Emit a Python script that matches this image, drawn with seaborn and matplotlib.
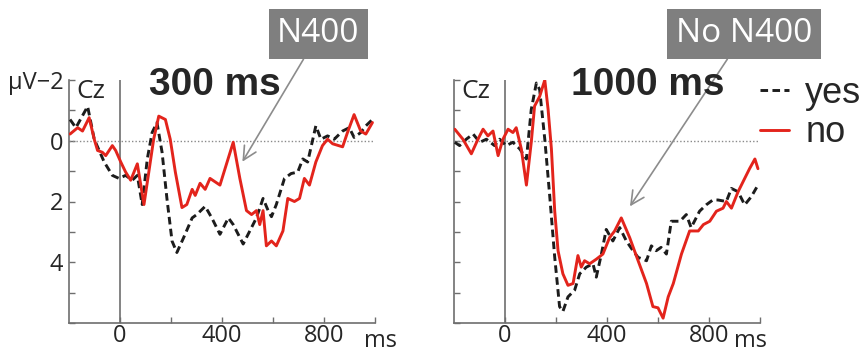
import numpy as np
import pandas as pd
import matplotlib
matplotlib.use("Agg")
import matplotlib.pyplot as plt
import seaborn as sns

sns.set_theme(style="white")
plt.rcParams['font.family'] = ['Open Sans', 'DejaVu Sans']

# ---------------- data (ms, µV; negative plotted up) ----------------
left_no_t = [-196, -166, -147, -121, -101, -88, -69, -56, -30, -17, 3, 22, 42, 68, 94, 113, 132, 152,
             178, 197, 217, 243, 262, 283, 295, 314, 334, 353, 392, 444, 470, 496, 516, 535, 548, 561,
             574, 594, 613, 639, 658, 684, 704, 723, 743, 768, 794, 814, 834, 873, 892, 918, 944, 964, 990]
left_no_v = [-0.22, -0.43, -0.32, -0.76, -0.05, 0.32, 0.38, 0.49, 0.16, 0.32, 0.7, 1.03, 1.3, 0.76, 2.1,
             1.03, -0.05, -0.81, -0.7, -0.05, 1.03, 2.2, 2.1, 1.6, 1.8, 1.4, 1.6, 1.24, 1.46, 0.05, 1.24,
             2.3, 2.43, 2.3, 2.76, 2.3, 3.46, 3.3, 3.46, 2.97, 1.9, 2.0, 1.9, 1.24, 1.46, 0.7, 0.16, -0.05,
             0.1, 0.2, -0.27, -0.86, -0.32, -0.22, -0.6]

left_yes_t = [-196, -173, -127, -101, -62, -30, -4, 22, 48, 68, 87, 107, 126, 145, 165, 184, 204, 223,
              249, 283, 301, 334, 360, 392, 425, 444, 483, 509, 535, 561, 581, 594, 613, 645, 671, 697,
              717, 736, 768, 788, 814, 840, 873, 899, 918, 944, 964, 990]
left_yes_v = [-0.7, -0.43, -1.13, -0.05, 0.7, 1.14, 1.24, 1.14, 1.3, 1.14, 2.1, 0.6, -0.27, -0.6, 0.38,
              1.9, 3.3, 3.68, 3.2, 2.54, 2.43, 2.16, 2.54, 3.08, 2.54, 2.76, 3.4, 2.97, 2.54, 1.9, 2.3,
              2.5, 2.1, 1.24, 1.08, 1.03, 0.6, 0.7, -0.49, -0.05, -0.16, -0.05, -0.32, -0.43, -0.11,
              -0.27, -0.49, -0.7]

right_no_t = [-197, -165, -132, -106, -86, -67, -47, -27, -8, 12, 31, 44, 64, 84, 103, 116, 136, 156,
              169, 182, 195, 208, 227, 247, 267, 286, 299, 312, 332, 358, 384, 410, 430, 456, 489, 522,
              555, 580, 600, 620, 640, 660, 692, 724, 758, 778, 803, 829, 855, 868, 888, 914, 940, 959,
              980, 992]
right_no_v = [-0.38, -0.05, 0.43, -0.05, -0.38, -0.16, -0.32, 0.49, -0.05, -0.38, -0.27, -0.43, 0.27,
              1.46, 0.05, -1.14, -1.46, -2.0, -1.03, 0.27, 2.32, 3.62, 4.38, 4.76, 4.7, 3.78, 4.16, 3.95,
              4.05, 3.9, 3.73, 3.19, 2.97, 2.54, 3.19, 3.95, 4.7, 5.46, 5.5, 5.84, 5.14, 4.7, 3.73, 2.97,
              2.97, 2.76, 2.65, 2.32, 2.22, 2.0, 2.22, 1.68, 1.24, 0.92, 0.6, 0.92]

right_yes_t = [-197, -178, -152, -125, -99, -73, -41, -21, 5, 31, 58, 84, 103, 123, 136, 156, 175, 195,
               214, 227, 247, 273, 293, 319, 345, 358, 378, 397, 423, 450, 476, 502, 522, 555, 574, 593,
               612, 633, 652, 686, 711, 730, 763, 789, 815, 835, 868, 888, 914, 940, 966, 992]
right_yes_v = [0.05, 0.16, -0.05, -0.22, 0.05, -0.05, 0.16, -0.05, 0.16, 0.05, 0.27, 0.6, -1.03, -1.9,
               -1.68, -0.05, 1.78, 3.84, 5.46, 5.62, 5.14, 4.92, 4.38, 4.16, 4.05, 4.49, 3.73, 2.92, 3.3,
               2.86, 3.3, 3.62, 3.84, 3.95, 3.46, 3.62, 3.51, 3.73, 2.65, 2.65, 2.43, 2.86, 2.32, 2.11,
               1.95, 1.95, 2.0, 1.57, 1.68, 2.11, 1.84, 1.46]

x_ticks = [0, 200, 400, 600, 800, 1000]
x_ticklabels = ['0', '', '400', '', '800', '']
y_ticks = [-2, -1, 0, 1, 2, 3, 4, 5, 6]
y_ticklabels = ['µV\u22122', '', '0', '', '2', '', '4', '', '']
panel_titles = ['300 ms', '1000 ms']
box_labels = ['N400', 'No N400']
legend_labels = ['yes', 'no']

RED = '#e3241c'
BLK = '#1c1c1c'
AX_COL = '#6e6e6e'
TXT = '#262626'

fig = plt.figure(figsize=(8.66, 3.52), dpi=100)
axL = fig.add_axes([69/866, 1-323/352, 306/866, 243/352])
axR = fig.add_axes([454/866, 1-323/352, 306/866, 243/352])

dash = (0, (2.6, 1.5))
for ax, (ty, vy, tn, vn) in zip([axL, axR], [(left_yes_t, left_yes_v, left_no_t, left_no_v),
                                             (right_yes_t, right_yes_v, right_no_t, right_no_v)]):
    ax.axhline(0, color='#8a8a8a', lw=1.0, ls=(0, (1, 1.5)), zorder=1)
    ax.axvline(0, color=AX_COL, lw=1.2, zorder=1)
    sns.lineplot(x=ty, y=vy, ax=ax, color=BLK, lw=2.1, linestyle=dash, sort=False,
                 estimator=None, label=legend_labels[0], legend=False, zorder=3)
    sns.lineplot(x=tn, y=vn, ax=ax, color=RED, lw=2.1, sort=False,
                 estimator=None, label=legend_labels[1], legend=False, zorder=4)
    ax.set_xlim(-200, 1000)
    ax.set_ylim(6, -2)
    ax.set_xticks(x_ticks)
    ax.set_yticks(y_ticks)
    for s in ['top', 'right']:
        ax.spines[s].set_visible(False)
    for s in ['left', 'bottom']:
        ax.spines[s].set_color(AX_COL)
        ax.spines[s].set_linewidth(1.2)
    ax.tick_params(direction='in', length=4, width=1.0, color=AX_COL, labelsize=17,
                   labelcolor=TXT, left=True, bottom=True)
    ax.tick_params(axis='x', pad=1)
    ax.tick_params(axis='y', pad=4)
    ax.set_xlabel('')
    ax.set_ylabel('')
    ax.set_xticklabels(x_ticklabels)
    ax.text(-170, -1.62, 'Cz', fontsize=19, color=TXT, ha='left', va='center')

axL.set_yticklabels(y_ticklabels)
axR.set_yticklabels([''] * len(y_ticks))

# titles
fig.text(215/866, 1-85/352, panel_titles[0], fontsize=28, fontweight='bold',
         family='Liberation Sans', color=TXT, ha='center', va='center')
fig.text(648/866, 1-85/352, panel_titles[1], fontsize=28, fontweight='bold',
         family='Liberation Sans', color=TXT, ha='center', va='center')

# ms unit labels
fig.text(381/866, 1-341/352, 'ms', fontsize=17, color=TXT, ha='center', va='center')
fig.text(751/866, 1-341/352, 'ms', fontsize=17, color=TXT, ha='center', va='center')

# annotation boxes with arrows
box = dict(boxstyle='square,pad=0.26', fc='#7f7f7f', ec='none')
arr = dict(arrowstyle='->', color='#8c8c8c', lw=1.2, shrinkA=0, shrinkB=0)
axL.annotate(box_labels[0], xy=(480, 0.69), xycoords='data',
             xytext=(318.5/866, 1-34/352), textcoords='figure fraction',
             fontsize=24, color='white', ha='center', va='center', bbox=box,
             arrowprops=arr, annotation_clip=False, zorder=6)
axR.annotate(box_labels[1], xy=(490, 2.16), xycoords='data',
             xytext=(744/866, 1-34/352), textcoords='figure fraction',
             fontsize=24, color='white', ha='center', va='center', bbox=box,
             arrowprops=arr, annotation_clip=False, zorder=6)

# legend
h = axR.get_lines()
handles = [l for l in h if l.get_label() in legend_labels]
leg = fig.legend(handles, legend_labels, loc='upper left', bbox_to_anchor=(760/866, 1-76/352),
                 frameon=False, borderpad=0, borderaxespad=0, handlelength=0.8,
                 handletextpad=0.45, labelspacing=0.12,
                 prop={'family': 'Liberation Sans', 'size': 26})
for t in leg.get_texts():
    t.set_color(TXT)

fig.savefig('out.png', dpi=100)
